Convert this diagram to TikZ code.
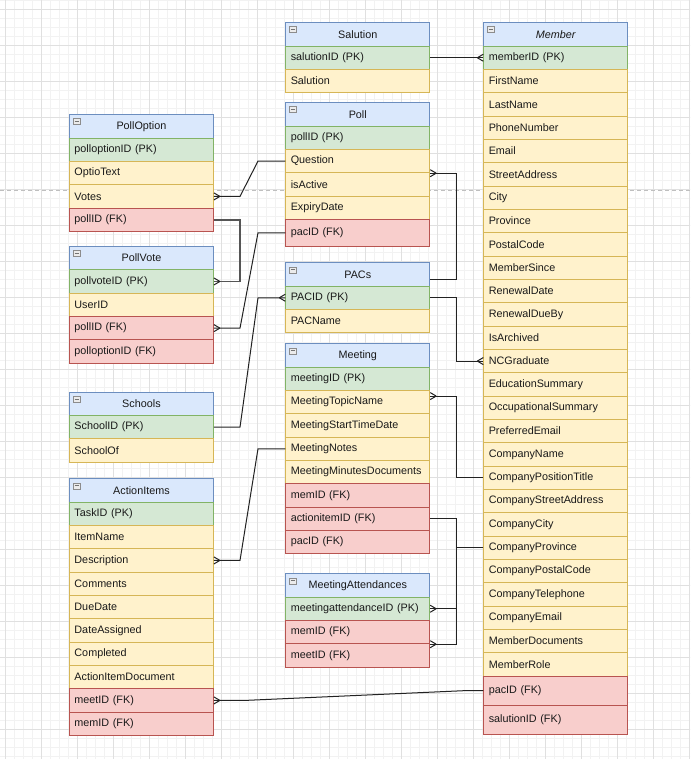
\documentclass[tikz,border=0pt]{standalone}
\usepackage{fontspec}
\setmainfont{Liberation Sans}
\usetikzlibrary{calc}
\definecolor{hdrfill}{HTML}{DAE8FC}\definecolor{hdrline}{HTML}{6C8EBF}
\definecolor{pkfill}{HTML}{D5E8D4}\definecolor{pkline}{HTML}{82B366}
\definecolor{atfill}{HTML}{FFF2CC}\definecolor{atline}{HTML}{D6B656}
\definecolor{fkfill}{HTML}{F8CECC}\definecolor{fkline}{HTML}{B85450}
\definecolor{minorc}{HTML}{F2F2F2}\definecolor{majorc}{HTML}{E0E0E0}
\definecolor{connc}{HTML}{222222}\definecolor{conng}{HTML}{555555}
\tikzset{
  cell/.style={rectangle, draw, line width=0.9pt, text width=134pt, inner xsep=5pt, inner ysep=0pt,
    align=left, font=\fontsize{10.8}{12}\selectfont, anchor=north west, minimum height=23.333pt, text=black!90},
  hdr/.style={cell, fill=hdrfill, draw=hdrline, align=center},
  pk/.style={cell, fill=pkfill, draw=pkline},
  att/.style={cell, fill=atfill, draw=atline},
  fk/.style={cell, fill=fkfill, draw=fkline},
  iconbox/.style={draw=black!45, fill=black!8, line width=0.6pt},
  icondash/.style={draw=black!55, line width=0.8pt},
  conn/.style={draw=connc, line width=1pt},
  conn2/.style={draw=conng, line width=1.6pt},
  minorgrid/.style={draw=minorc, line width=0.8pt},
  majorgrid/.style={draw=majorc, line width=0.8pt},
  pagebreak/.style={draw=black!25, line width=1pt, dash pattern=on 4pt off 3pt},
}
\def\R{23.333}
\def\ery{0}
\newcommand\ertable[5]{%
  \node[hdr] (#1-h) at (#2,-#3) {#4};
  \draw[iconbox] ([shift={(4pt,-4.5pt)}]#1-h.north west) rectangle ++(7pt,-6pt);
  \draw[icondash] ([shift={(5.5pt,-7.5pt)}]#1-h.north west) -- ++(4pt,0);
  \pgfmathsetmacro\tmpy{#3+\R}\xdef\ery{\tmpy}%
  \foreach \s/\t/\hh [count=\i] in {#5} {%
    \node[\s, minimum height=\hh pt] (#1-\i) at (#2,-\ery) {\t};
    \pgfmathsetmacro\tmpy{\ery+\hh}\xdef\ery{\tmpy}%
  }%
}
\newcommand\crowW[1]{\draw[conn] ([xshift=-6pt]#1) -- ([yshift=3.5pt]#1) ([xshift=-6pt]#1) -- ([yshift=-3.5pt]#1);}
\newcommand\crowE[1]{\draw[conn] ([xshift=6pt]#1) -- ([yshift=3.5pt]#1) ([xshift=6pt]#1) -- ([yshift=-3.5pt]#1);}
\begin{document}
\begin{tikzpicture}[x=1pt,y=1pt]
\useasboundingbox (0,0) rectangle (690,-759);
\fill[white] (0,0) rectangle (690,-759);
\begin{scope}
\clip (0,0) rectangle (690,-759);
\begin{scope}[shift={(5.3,-9)}]
  \draw[minorgrid, step=9pt] (-18,-765) grid (702,18);
  \draw[majorgrid, step=36pt] (-36,-792) grid (720,36);
\end{scope}
\end{scope}
\draw[pagebreak] (0,-190.7) -- (690,-190.7);

% tables
\ertable{sa}{285.3}{22.3}{Salution}{pk/salutionID (PK)/\R, att/Salution/\R}
\ertable{pl}{285.3}{102.3}{Poll}{pk/pollID (PK)/\R, att/Question/\R, att/isActive/\R, att/ExpiryDate/\R, fk/pacID (FK)/26.7}
\ertable{pc}{285.3}{262.3}{PACs}{pk/PACID (PK)/\R, att/PACName/\R}
\ertable{mt}{285.3}{343.3}{Meeting}{pk/meetingID (PK)/\R, att/MeetingTopicName/\R, att/MeetingStartTimeDate/\R, att/MeetingNotes/\R, att/MeetingMinutesDocuments/\R, fk/memID (FK)/\R, fk/actionitemID (FK)/\R, fk/pacID (FK)/\R}
\ertable{ma}{285.3}{573.3}{MeetingAttendances}{pk/meetingattendanceID (PK)/\R, fk/memID (FK)/\R, fk/meetID (FK)/\R}
\ertable{po}{69}{114.3}{PollOption}{pk/polloptionID (PK)/\R, att/OptioText/\R, att/Votes/\R, fk/pollID (FK)/\R}
\ertable{pv}{69}{246}{PollVote}{pk/pollvoteID (PK)/\R, att/UserID/\R, fk/pollID (FK)/\R, fk/polloptionID (FK)/\R}
\ertable{sc}{69}{391.7}{Schools}{pk/SchoolID (PK)/\R, att/SchoolOf/\R}
\ertable{ai}{69}{478.3}{ActionItems}{pk/TaskID (PK)/\R, att/ItemName/\R, att/Description/\R, att/Comments/\R, att/DueDate/\R, att/DateAssigned/\R, att/Completed/\R, att/ActionItemDocument/\R, fk/meetID (FK)/\R, fk/memID (FK)/\R}
\ertable{me}{483.3}{22.3}{\itshape Member}{pk/memberID (PK)/\R, att/FirstName/\R, att/LastName/\R, att/PhoneNumber/\R, att/Email/\R, att/StreetAddress/\R, att/City/\R, att/Province/\R, att/PostalCode/\R, att/MemberSince/\R, att/RenewalDate/\R, att/RenewalDueBy/\R, att/IsArchived/\R, att/NCGraduate/\R, att/EducationSummary/\R, att/OccupationalSummary/\R, att/PreferredEmail/\R, att/CompanyName/\R, att/CompanyPositionTitle/\R, att/CompanyStreetAddress/\R, att/CompanyCity/\R, att/CompanyProvince/\R, att/CompanyPostalCode/\R, att/CompanyTelephone/\R, att/CompanyEmail/\R, att/MemberDocuments/\R, att/MemberRole/\R, fk/pacID (FK)/29.3, fk/salutionID (FK)/29.3}

% channel coordinates
\coordinate (xL) at (240,0);
\coordinate (xD) at (258,0);
\coordinate (xM) at (245,0);
\coordinate (xN) at (463,0);
\coordinate (xR) at (456,0);
\coordinate (m2) at ([yshift=6pt]mt-2.east);
\coordinate (ph) at ([yshift=-5pt]pc-h.east);

% connectors
\draw[conn] (sa-1.east) -- (me-1.west); \crowW{me-1.west}
\draw[conn] (po-3.east) -- (po-3.east -| xL) -- (pl-2.west -| xD) -- (pl-2.west); \crowE{po-3.east}
\draw[conn2] (po-4.east) -- (po-4.east -| xL) |- (pv-1.east); \crowE{pv-1.east}
\draw[conn] (pl-5.west) -- (pl-5.west -| xD) -- (pv-3.east -| xL) -- (pv-3.east); \crowE{pv-3.east}
\draw[conn] (sc-1.east) -- (sc-1.east -| xL) -- (pc-1.west -| xD) -- (pc-1.west); \crowW{pc-1.west}
\draw[conn] (ai-3.east) -- (ai-3.east -| xL) -- (mt-4.west -| xD) -- (mt-4.west); \crowE{ai-3.east}
\draw[conn] (ai-9.east) -- (ai-9.east -| xM) -- (me-28.west -| xN) -- (me-28.west); \crowE{ai-9.east}
\draw[conn] (pl-2.south east) -- (pl-2.south east -| xR) |- (ph); \crowE{pl-2.south east}
\draw[conn] (pc-1.east) -- (pc-1.east -| xR) |- (me-14.west); \crowW{me-14.west}
\draw[conn] (m2) -- (m2 -| xR) |- (me-19.west); \crowE{m2}
\draw[conn] (mt-7.east) -- (mt-7.east -| xR) |- (ma-2.south east); \crowE{ma-2.south east}
\draw[conn] (me-22.west) -- (me-22.west -| xR) |- (ma-1.east); \crowE{ma-1.east}
\end{tikzpicture}
\end{document}
